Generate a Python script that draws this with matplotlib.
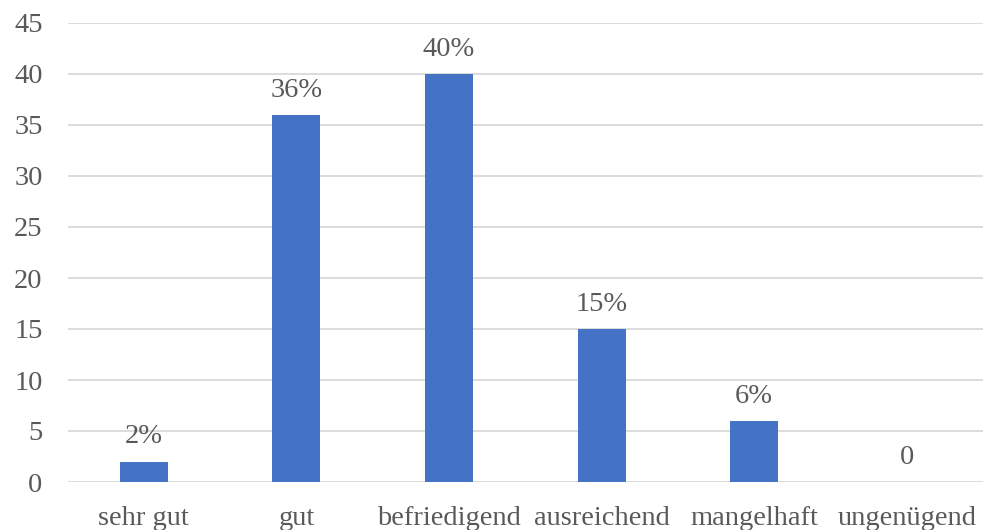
import matplotlib
matplotlib.use("Agg")
import matplotlib.pyplot as plt

categories = ["sehr gut", "gut", "befriedigend", "ausreichend", "mangelhaft", "ungenügend"]
values = [2, 36, 40, 15, 6, 0]
labels = ["2%", "36%", "40%", "15%", "6%", "0"]
yticks = [0, 5, 10, 15, 20, 25, 30, 35, 40, 45]

plt.rcParams['font.family'] = ['Liberation Serif', 'DejaVu Serif']
txt = '#595959'

fig = plt.figure(figsize=(9.88, 5.30), dpi=100)
ax = fig.add_axes([67.5/988, 48/530, 915.5/988, 459/530])
x = list(range(len(categories)))
ax.bar(x, values, width=0.315, color='#4472C4', zorder=3)
for xi, v, lab in zip(x, values, labels):
    ax.text(xi, v + 1.2, lab, ha='center', va='bottom', fontsize=20.5, color=txt, zorder=4)
ax.set_xlim(-0.5, len(categories) - 0.5)
ax.set_ylim(0, 45)
ax.set_yticks(yticks)
ax.set_xticks(x)
ax.set_xticklabels(categories)
ax.tick_params(axis='both', length=0, labelsize=20.5, colors=txt)
ax.tick_params(axis='x', pad=17)
ax.tick_params(axis='y', pad=18)
ax.yaxis.grid(True, color='#d9d9d9', linewidth=1.3, zorder=0)
for s in ax.spines.values():
    s.set_visible(False)
fig.savefig("out.png", dpi=100)
